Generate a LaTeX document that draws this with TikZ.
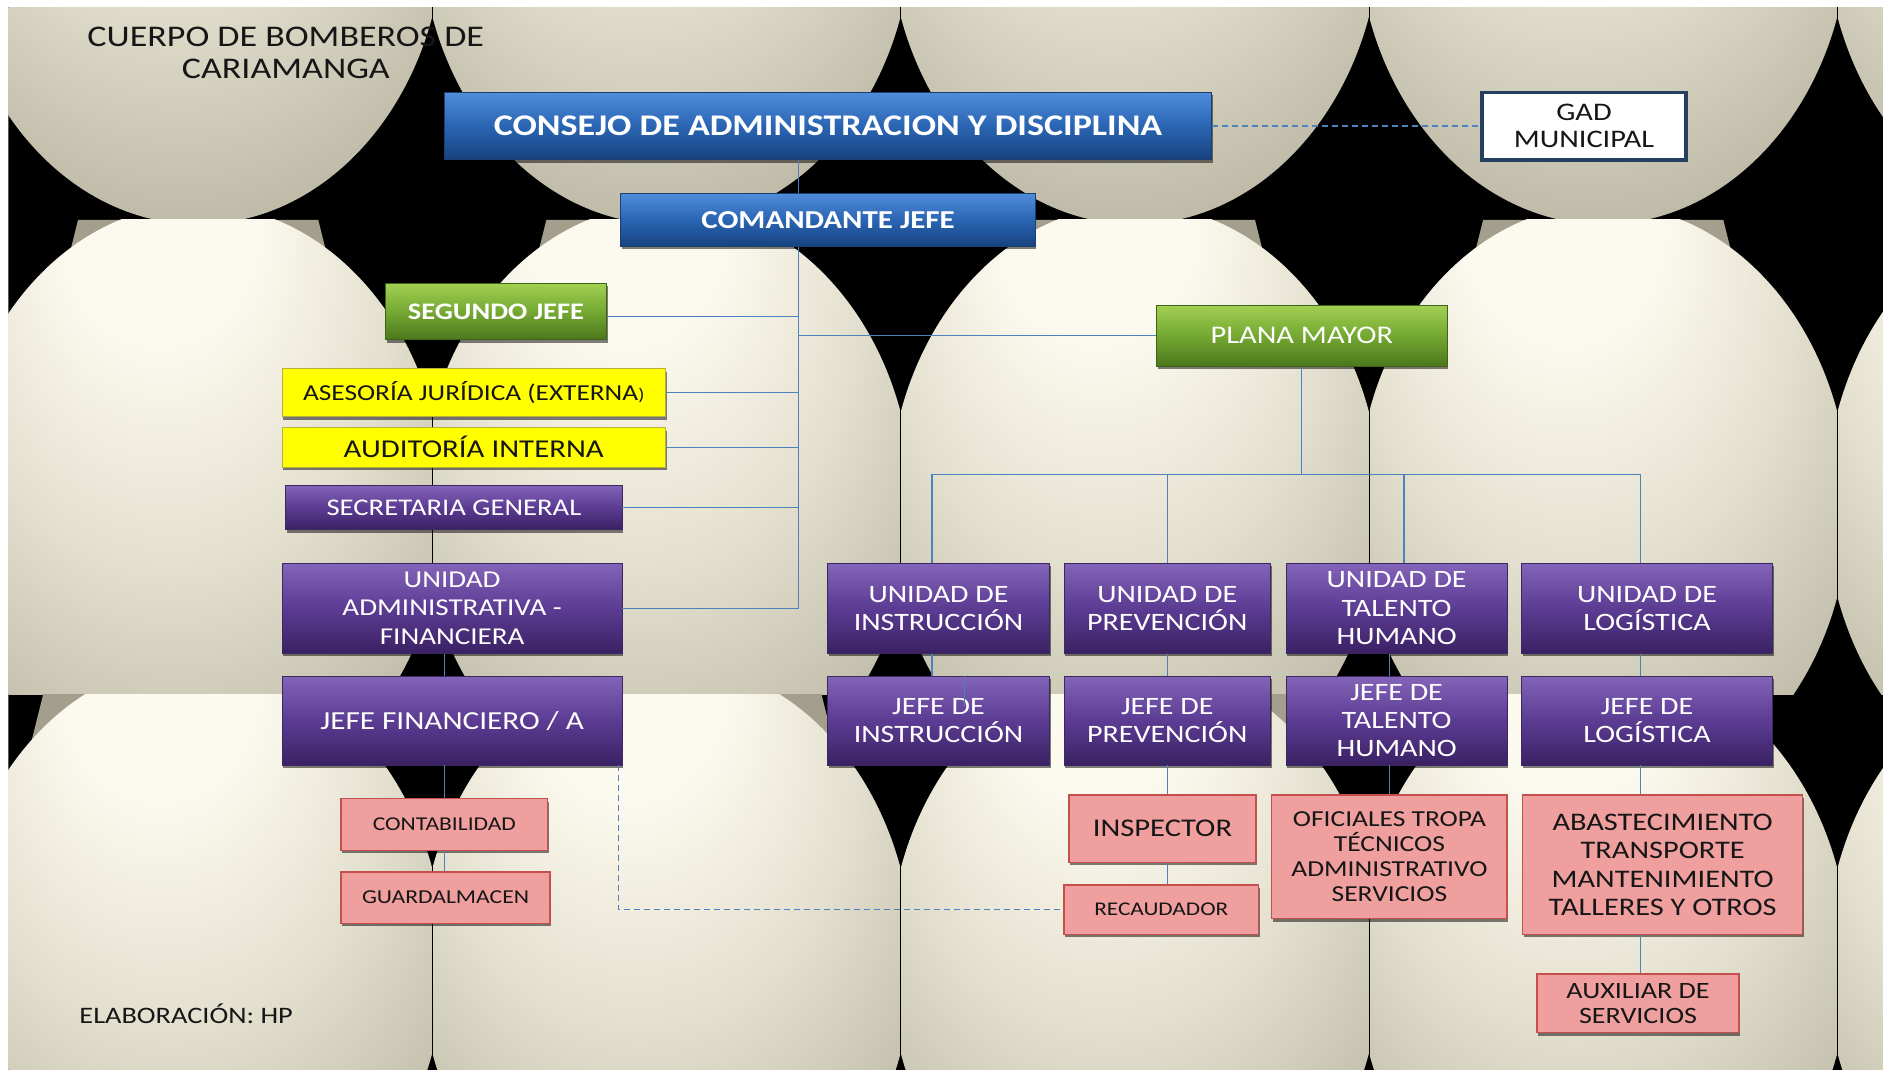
\documentclass[tikz,border=0pt]{standalone}
\usepackage{fontspec}
\setmainfont{Carlito}[FakeStretch=1.2]
\usetikzlibrary{shadows,calc}
\definecolor{sphA}{HTML}{FCFAEF}
\definecolor{sphB}{HTML}{E4E0CF}
\definecolor{sphC}{HTML}{BAB6A3}
\definecolor{sphD}{HTML}{938F7B}
\definecolor{hornC}{HTML}{A39F8C}
\definecolor{blueT}{HTML}{4F8DDB}
\definecolor{blueM}{HTML}{2A65B3}
\definecolor{blueB}{HTML}{17427F}
\definecolor{blueD}{HTML}{1B3F6E}
\definecolor{greenT}{HTML}{A2D052}
\definecolor{greenM}{HTML}{74A832}
\definecolor{greenB}{HTML}{4B771C}
\definecolor{greenD}{HTML}{3F6418}
\definecolor{purT}{HTML}{8464B8}
\definecolor{purM}{HTML}{5C3C93}
\definecolor{purB}{HTML}{3A2163}
\definecolor{purD}{HTML}{3B2860}
\definecolor{yelF}{HTML}{FFFF00}
\definecolor{yelD}{HTML}{B5B23A}
\definecolor{pinkF}{HTML}{EE9F9E}
\definecolor{pinkD}{HTML}{C4504D}
\definecolor{lineB}{HTML}{4F81BD}
\definecolor{gadD}{HTML}{243F60}
\definecolor{txt}{HTML}{161616}
\pgfdeclareradialshading{ballsh}{\pgfpoint{-5bp}{30bp}}{color(0bp)=(sphA); color(10bp)=(sphA); color(22bp)=(sphB); color(36bp)=(sphC); color(50bp)=(sphD)}
\newcommand\myfs[2]{\fontsize{#1}{#2}\selectfont}
% #1 style, #2 name, #3 x1, #4 y1, #5 x2, #6 y2, #7 text
\newcommand\pbox[7]{%
  \pgfmathsetmacro\bxw{(#5-#3)*1.2009}%
  \pgfmathsetmacro\bxh{(#6-#4)*1.2009}%
  \node[#1, minimum width=\bxw pt, minimum height=\bxh pt] (#2) at ({(#3+#5)/2},{(#4+#6)/2}) {#7};}
\begin{document}
\begin{tikzpicture}[x=1.2009pt,y=-1.2009pt,
  conn/.style={draw=lineB, line width=1.4pt},
  dconn/.style={conn, dash pattern=on 6pt off 4pt},
  box/.style={inner sep=0pt, align=center, drop shadow={shadow xshift=1.2pt, shadow yshift=-3pt, opacity=0.5, fill=black}},
  bluebox/.style={box, draw=blueD, line width=0.8pt, top color=blueT, bottom color=blueB, middle color=blueM, text=white},
  greenbox/.style={box, draw=greenD, line width=0.8pt, top color=greenT, bottom color=greenB, middle color=greenM, text=white},
  purbox/.style={box, draw=purD, line width=0.8pt, top color=purT, bottom color=purB, middle color=purM, text=white},
  yelbox/.style={box, draw=yelD, line width=1.2pt, fill=yelF, text=txt},
  pinkbox/.style={box, draw=pinkD, line width=1.4pt, fill=pinkF, text=txt},
  gadbox/.style={inner sep=0pt, align=center, draw=gadD, line width=3.6pt, fill=white, text=txt},
]
\useasboundingbox (0,0) rectangle (1568,891);
\fill[white] (0,0) rectangle (1568,891);
% background of spheres
\begin{scope}
\clip (7,6) rectangle (1568,891);
\fill[black] (7,6) rectangle (1568,891);
\foreach \cx in {165,555,945,1335,1725} {
  \begin{scope}
    \clip (\cx-195,-300) rectangle (\cx+195,183);
    \shade[shading=ballsh] (\cx,-63) ellipse [x radius=246pt, y radius=300pt];
  \end{scope}
  \foreach \ya/\yb/\cyy/\hw in {183/578/420/65, 578/980/800/94} {
    \begin{scope}
      \clip (\cx-195,\ya) rectangle (\cx+195,\yb);
      \fill[hornC] (\cx-\hw-35,\ya) -- (\cx-\hw+5,\ya) -- (\cx-\hw-45,\ya+40) -- cycle;
      \fill[hornC] (\cx+\hw+35,\ya) -- (\cx+\hw-5,\ya) -- (\cx+\hw+45,\ya+40) -- cycle;
      \shade[shading=ballsh] (\cx,\cyy) ellipse [x radius=246pt, y radius=300pt];
    \end{scope}
  }
}
\foreach \bx in {360,750,1140,1530} {
  \draw[black, line width=0.8pt] (\bx,6) -- (\bx,891);
}
\end{scope}

% texts
\node[font=\myfs{30}{32.4}, text=txt, align=center] (title) at (238,44) {CUERPO DE BOMBEROS DE\\CARIAMANGA};
\node[font=\myfs{23.6}{26}, text=txt, anchor=west, inner sep=0pt] (elab) at (66,844) {ELABORACIÓN: HP};

% boxes
\pbox{bluebox, font=\myfs{30}{34}\bfseries}{consejo}{370}{77}{1009}{133}{CONSEJO DE ADMINISTRACION Y DISCIPLINA}
\pbox{gadbox, font=\myfs{25.3}{26.5}}{gad}{1234}{77}{1404}{133}{GAD\\MUNICIPAL}
\pbox{bluebox, font=\myfs{25.8}{30}\bfseries}{coman}{517}{161}{862}{205}{COMANDANTE JEFE}
\pbox{greenbox, font=\myfs{23.7}{28}\bfseries}{segundo}{321}{236}{505}{283}{SEGUNDO JEFE}
\pbox{greenbox, font=\myfs{25.4}{28}}{plana}{963}{254}{1205}{305}{PLANA MAYOR}
\pbox{yelbox, font=\myfs{22.8}{26}}{asesoria}{235}{307}{554}{347}{ASESORÍA JURÍDICA (EXTERNA{\myfs{17}{20})}}
\pbox{yelbox, font=\myfs{25.7}{28}}{auditoria}{235}{356}{554}{389}{AUDITORÍA INTERNA}
\pbox{purbox, font=\myfs{23.9}{28}}{secretaria}{238}{404}{518}{441}{SECRETARIA GENERAL}
\pbox{purbox, font=\myfs{24.2}{28.2}}{uadm}{235}{469}{518}{544}{UNIDAD\\ADMINISTRATIVA -\\FINANCIERA}
\pbox{purbox, font=\myfs{26}{30}}{jfin}{235}{563}{518}{637}{JEFE FINANCIERO / A}
\pbox{pinkbox, font=\myfs{19.6}{22}}{contab}{284}{665}{456}{708}{CONTABILIDAD}
\pbox{pinkbox, font=\myfs{19.7}{22}}{guard}{284}{726}{458}{769}{GUARDALMACEN}

\pbox{purbox, font=\myfs{25}{28.2}}{uinst}{689}{469}{874}{544}{UNIDAD DE\\INSTRUCCIÓN}
\pbox{purbox, font=\myfs{25}{28.2}}{uprev}{886}{469}{1058}{544}{UNIDAD DE\\PREVENCIÓN}
\pbox{purbox, font=\myfs{25}{28.2}}{utal}{1071}{469}{1255}{544}{UNIDAD DE\\TALENTO\\HUMANO}
\pbox{purbox, font=\myfs{25}{28.2}}{ulog}{1267}{469}{1476}{544}{UNIDAD DE\\LOGÍSTICA}
\pbox{purbox, font=\myfs{25}{28.2}}{jinst}{689}{563}{874}{637}{JEFE DE\\INSTRUCCIÓN}
\pbox{purbox, font=\myfs{25}{28.2}}{jprev}{886}{563}{1058}{637}{JEFE DE\\PREVENCIÓN}
\pbox{purbox, font=\myfs{25}{28.2}}{jtal}{1071}{563}{1255}{637}{JEFE DE\\TALENTO\\HUMANO}
\pbox{purbox, font=\myfs{25}{28.2}}{jlog}{1267}{563}{1476}{637}{JEFE DE\\LOGÍSTICA}

\pbox{pinkbox, font=\myfs{25.5}{28}}{insp}{890}{662}{1046}{718}{INSPECTOR}
\pbox{pinkbox, font=\myfs{19.4}{22}}{recaud}{886}{737}{1048}{778}{RECAUDADOR}
\pbox{pinkbox, font=\myfs{22.9}{24.9}}{ofic}{1059}{662}{1255}{765}{OFICIALES TROPA\\TÉCNICOS\\ADMINISTRATIVO\\SERVICIOS}
\pbox{pinkbox, font=\myfs{25.3}{28.5}}{abast}{1268}{662}{1501}{778}{ABASTECIMIENTO\\TRANSPORTE\\MANTENIMIENTO\\TALLERES Y OTROS}
\pbox{pinkbox, font=\myfs{23.4}{25}}{auxil}{1280}{811}{1448}{860}{AUXILIAR DE\\SERVICIOS}

% connectors
\coordinate (tx) at (665,0);
\coordinate (fx) at (370,0);
\coordinate (busy) at (0,395);
\coordinate (d1) at (776,0);
\coordinate (d2) at (972,0);
\coordinate (d3) at (1169,0);
\coordinate (d4) at (1366,0);
\coordinate (e3) at (1157,0);
\coordinate (sx) at (803,0);
\coordinate (dx) at (515,0);

\draw[dconn] (consejo.east) -- (gad.west);
\draw[conn] (consejo.south -| tx) -- (coman.north -| tx);
\draw[conn] (coman.south -| tx) -- (uadm.east -| tx);
\draw[conn] ($(segundo.east)+(0,4)$) -- ($(segundo.east -| tx)+(0,4)$);
\draw[conn] (plana.west) -- (plana.west -| tx);
\draw[conn] (asesoria.east) -- (asesoria.east -| tx);
\draw[conn] (auditoria.east) -- (auditoria.east -| tx);
\draw[conn] (secretaria.east) -- (secretaria.east -| tx);
\draw[conn] (uadm.east) -- (uadm.east -| tx);
\draw[conn] (uadm.south -| fx) -- (jfin.north -| fx);
\draw[conn] (jfin.south -| fx) -- (contab.north -| fx);
\draw[conn] (contab.south -| fx) -- (guard.north -| fx);
\draw[dconn] (jfin.south -| dx) |- (recaud.west);
\draw[conn] (plana.south) -- (plana.south |- busy);
\draw[conn] (busy -| d1) -- (busy -| d4);
\draw[conn] (busy -| d1) -- (uinst.north -| d1);
\draw[conn] (busy -| d2) -- (uprev.north -| d2);
\draw[conn] (busy -| d3) -- (utal.north -| d3);
\draw[conn] (busy -| d4) -- (ulog.north -| d4);
\draw[conn] (uinst.south -| d1) -- (jinst.north -| d1);
\draw[conn] (uprev.south -| d2) -- (jprev.north -| d2);
\draw[conn] (utal.south -| e3) -- (jtal.north -| e3);
\draw[conn] (ulog.south -| d4) -- (jlog.north -| d4);
\draw[draw=lineB, line width=0.8pt] (jinst.north -| sx) -- ($(jinst.north -| sx)+(0,25)$);
\draw[conn] (jprev.south -| d2) -- (insp.north -| d2);
\draw[conn] (insp.south -| d2) -- (recaud.north -| d2);
\draw[conn] (jtal.south -| e3) -- (ofic.north -| e3);
\draw[conn] (jlog.south -| d4) -- (abast.north -| d4);
\draw[conn] (abast.south -| d4) -- (auxil.north -| d4);
\end{tikzpicture}
\end{document}
